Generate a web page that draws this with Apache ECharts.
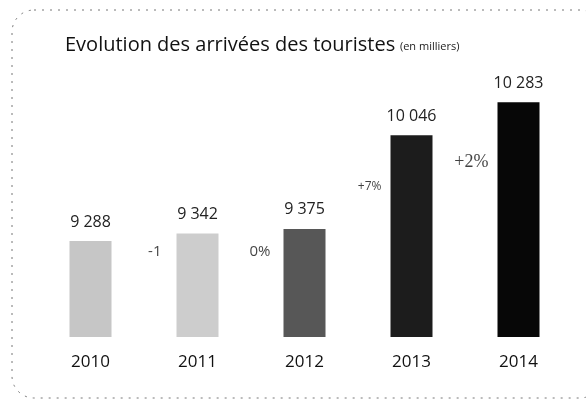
<!DOCTYPE html>
<html>
<head>
<meta charset="utf-8">
<script src="https://cdn.jsdelivr.net/npm/echarts@6/dist/echarts.min.js"></script>
<style>
  html, body { margin: 0; padding: 0; background: #fff; }
  #chart { width: 586px; height: 403px; }
</style>
</head>
<body>
<div id="chart"></div>
<script>
var years = ['2010', '2011', '2012', '2013', '2014'];
var arrivals = [9288, 9342, 9375, 10046, 10283];
var changes = ['', '-1', '0%', '+7%', '+2%'];
// hauteur (en milliers) à laquelle chaque variation est écrite
var changeHeights = [null, 9210, 9210, 9680, 9850];

var barColors = ['#c6c6c6', '#cdcdcd', '#575757', '#1c1c1c', '#070707'];
var changeStyles = [
    {},
    { fontSize: 15, distance: 36 },
    { fontSize: 15, distance: 34 },
    { fontSize: 12, distance: 30 },
    { fontSize: 18, distance: 30, fontFamily: 'Liberation Serif' }
];

var chartDom = document.getElementById('chart');
var myChart = echarts.init(chartDom);

var option = {
    backgroundColor: '#ffffff',
    animation: false,
    textStyle: { fontFamily: 'Open Sans' },
    title: {
        text: '{main|Evolution des arrivées des touristes} {sub|(en milliers)}',
        left: 60,
        top: 30,
        textStyle: {
            fontWeight: 'normal',
            rich: {
                main: { fontSize: 20, color: '#111', fontWeight: 'normal', fontFamily: 'Open Sans' },
                sub: { fontSize: 11, color: '#222', fontWeight: 'normal', fontFamily: 'Open Sans', padding: [4, 0, 0, 0] }
            }
        }
    },
    graphic: [{
        type: 'rect',
        shape: { x: 12, y: 10, width: 590, height: 388, r: 22 },
        style: { fill: 'none', stroke: '#777', lineWidth: 1, lineDash: [2, 6] },
        silent: true
    }],
    grid: { left: 37, right: 14, top: 72, bottom: 66 },
    xAxis: {
        type: 'category',
        data: years,
        axisLine: { show: false },
        axisTick: { show: false },
        axisLabel: { fontSize: 17, color: '#111', margin: 17 }
    },
    yAxis: {
        type: 'value',
        min: 8600,
        max: 10500,
        show: false,
        splitLine: { show: false }
    },
    series: [
        {
            name: 'Arrivées',
            type: 'bar',
            barWidth: 42,
            data: arrivals.map(function (v, i) {
                return { value: v, itemStyle: { color: barColors[i] } };
            }),
            label: {
                show: true,
                position: 'top',
                distance: 11,
                fontSize: 16,
                color: '#222',
                formatter: function (p) {
                    return String(p.value).replace(/\B(?=(\d{3})+(?!\d))/g, ' ');
                }
            }
        },
        {
            name: 'Variation',
            type: 'scatter',
            symbolSize: 0,
            silent: true,
            data: changeHeights.map(function (h, i) {
                return {
                    value: h,
                    label: Object.assign({
                        show: h !== null,
                        position: 'left',
                        color: '#111',
                        formatter: changes[i]
                    }, changeStyles[i])
                };
            })
        }
    ]
};

myChart.setOption(option);
window.addEventListener('resize', function () {
    myChart.resize();
});
</script>
</body>
</html>
